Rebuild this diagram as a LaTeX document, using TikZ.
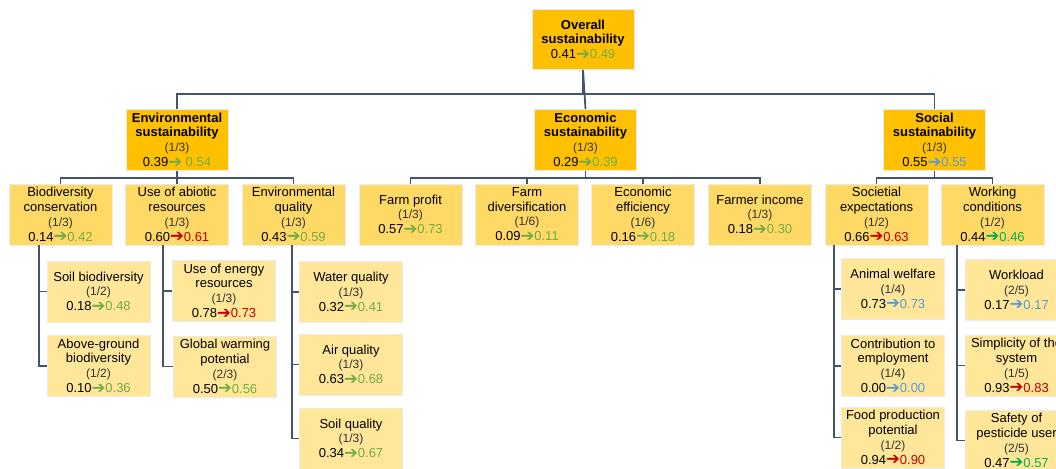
\documentclass[tikz,border=0pt]{standalone}
\usepackage{fontspec}
\setmainfont{Liberation Sans}
\newfontfamily\arrowfont{DejaVu Sans}
\definecolor{goldbox}{HTML}{FFC000}
\definecolor{midbox}{HTML}{FFD966}
\definecolor{lightbox}{HTML}{FFE699}
\definecolor{slate}{HTML}{44546A}
\definecolor{lgreen}{HTML}{70AD47}
\definecolor{dgreen}{HTML}{00B050}
\definecolor{redv}{HTML}{C00000}
\definecolor{bluev}{HTML}{5B9BD5}
\definecolor{wtgray}{HTML}{333333}
\newcommand\scorepair[3]{#1{\color{#3}\raisebox{-0.8pt}{\arrowfont\fontsize{16.5}{14.8}\selectfont\char"2794}#2}}
\newcommand\wt[1]{{\fontsize{12}{14.8}\selectfont\color{wtgray}(#1)}}
\begin{document}
\begin{tikzpicture}[x=1pt,y=-1pt,
  boxbase/.style={rectangle, draw=white!92!black, line width=0.8pt, align=center,
    inner sep=0pt, text=black, font=\fontsize{13}{14.8}\selectfont},
  lvlA/.style={boxbase, fill=goldbox, minimum width=102pt, minimum height=61pt},
  lvlB/.style={boxbase, fill=midbox, minimum width=103pt, minimum height=61pt},
  lvlC/.style={boxbase, fill=lightbox, minimum width=103pt, minimum height=61pt},
  conn/.style={draw=slate, line width=1.8pt}]
\useasboundingbox (0,0) rectangle (1056,468);
\clip (0,0) rectangle (1056,468);

% level 0
\node[lvlA, minimum height=60pt] (overall) at (583,39.5)
  {\textbf{Overall}\\\textbf{sustainability}\\\scorepair{0.41}{0.49}{lgreen}};

% level 1
\node[lvlA] (env) at (177,140)
  {\textbf{Environmental}\\\textbf{sustainability}\\\wt{1/3}\\\scorepair{0.39}{ 0.54}{lgreen}};
\node[lvlA] (econ) at (585.5,140)
  {\textbf{Economic}\\\textbf{sustainability}\\\wt{1/3}\\\scorepair{0.29}{0.39}{lgreen}};
\node[lvlA] (soc) at (934.5,140)
  {\textbf{Social}\\\textbf{sustainability}\\\wt{1/3}\\\scorepair{0.55}{0.55}{bluev}};

% level 2
\node[lvlB] (bio) at (60.5,214.5)
  {Biodiversity\\conservation\\\wt{1/3}\\\scorepair{0.14}{0.42}{lgreen}};
\node[lvlB] (abio) at (177,214.5)
  {Use of abiotic\\resources\\\wt{1/3}\\\scorepair{0.60}{0.61}{redv}};
\node[lvlB] (envq) at (293.5,214.5)
  {Environmental\\quality\\\wt{1/3}\\\scorepair{0.43}{0.59}{lgreen}};
\node[lvlB] (fprof) at (410.5,214.5)
  {Farm profit\\\wt{1/3}\\\scorepair{0.57}{0.73}{lgreen}};
\node[lvlB] (fdiv) at (527,214.5)
  {Farm\\diversification\\\wt{1/6}\\\scorepair{0.09}{0.11}{lgreen}};
\node[lvlB] (eeff) at (643,214.5)
  {Economic\\efficiency\\\wt{1/6}\\\scorepair{0.16}{0.18}{lgreen}};
\node[lvlB] (finc) at (760,214.5)
  {Farmer income\\\wt{1/3}\\\scorepair{0.18}{0.30}{lgreen}};
\node[lvlB] (soce) at (876.5,214.5)
  {Societial\\expectations\\\wt{1/2}\\\scorepair{0.66}{0.63}{redv}};
\node[lvlB] (work) at (992.5,214.5)
  {Working\\conditions\\\wt{1/2}\\\scorepair{0.44}{0.46}{dgreen}};

% level 3
\node[lvlC] (soilb) at (98.5,291.5)
  {Soil biodiversity\\\wt{1/2}\\\scorepair{0.18}{0.48}{lgreen}};
\node[lvlC] (aboveg) at (98.5,366)
  {Above-ground\\biodiversity\\\wt{1/2}\\\scorepair{0.10}{0.36}{lgreen}};
\node[lvlC] (energy) at (224,291)
  {Use of energy\\resources\\\wt{1/3}\\\scorepair{0.78}{0.73}{redv}};
\node[lvlC] (gwp) at (225,366.5)
  {Global warming\\potential\\\wt{2/3}\\\scorepair{0.50}{0.56}{lgreen}};
\node[lvlC] (water) at (351,292)
  {Water quality\\\wt{1/3}\\\scorepair{0.32}{0.41}{lgreen}};
\node[lvlC] (air) at (351,364.5)
  {Air quality\\\wt{1/3}\\\scorepair{0.63}{0.68}{lgreen}};
\node[lvlC] (soilq) at (351,438.5)
  {Soil quality\\\wt{1/3}\\\scorepair{0.34}{0.67}{lgreen}};
\node[lvlC] (animal) at (893,289)
  {Animal welfare\\\wt{1/4}\\\scorepair{0.73}{0.73}{bluev}};
\node[lvlC] (contrib) at (893,366)
  {Contribution to\\employment\\\wt{1/4}\\\scorepair{0.00}{0.00}{bluev}};
\node[lvlC] (food) at (893,437.5)
  {Food production\\potential\\\wt{1/2}\\\scorepair{0.94}{0.90}{redv}};
\node[lvlC] (workload) at (1016.5,290)
  {Workload\\\wt{2/5}\\\scorepair{0.17}{0.17}{bluev}};
\node[lvlC] (simpl) at (1016.5,365.5)
  {Simplicity of the\\system\\\wt{1/5}\\\scorepair{0.93}{0.83}{redv}};
\node[lvlC] (safety) at (1016.5,440.5)
  {Safety of\\pesticide user\\\wt{2/5}\\\scorepair{0.47}{0.57}{dgreen}};

% connectors level 0 -> 1
\draw[conn] (overall.south) -- ++(0,24) -| (env.north);
\draw[conn] (overall.south) -- ++(0,24) -| (soc.north);
\draw[conn] (overall.south) -- (econ.north);

% connectors level 1 -> 2
\foreach \c in {bio,abio,envq}{\draw[conn] (env.south) -- ++(0,7) -| (\c.north);}
\foreach \c in {fprof,fdiv,eeff,finc}{\draw[conn] (econ.south) -- ++(0,7) -| (\c.north);}
\foreach \c in {soce,work}{\draw[conn] (soc.south) -- ++(0,7) -| (\c.north);}

% connectors level 2 -> 3
\foreach \c in {soilb,aboveg}{\draw[conn] ([xshift=-21.5pt]bio.south) |- (\c.west);}
\foreach \c in {energy,gwp}{\draw[conn] ([xshift=-14pt]abio.south) |- (\c.west);}
\foreach \c in {water,air,soilq}{\draw[conn] ([xshift=-1.5pt]envq.south) |- (\c.west);}
\foreach \c in {animal,contrib,food}{\draw[conn] ([xshift=-42.5pt]soce.south) |- (\c.west);}
\foreach \c in {workload,simpl,safety}{\draw[conn] ([xshift=-35.5pt]work.south) |- (\c.west);}
\end{tikzpicture}
\end{document}
